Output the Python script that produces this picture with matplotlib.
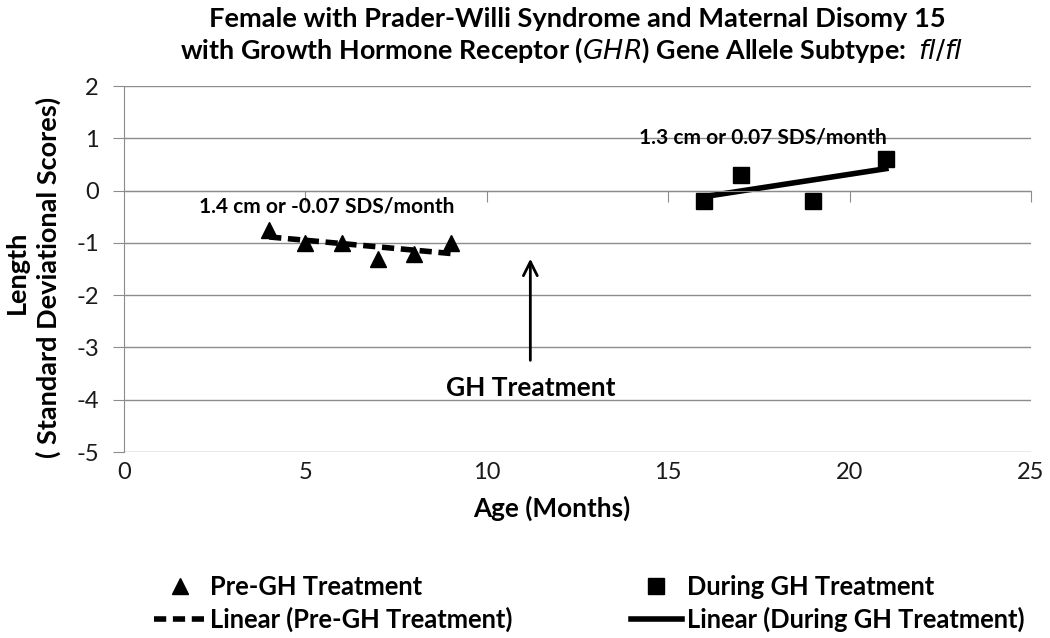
import matplotlib
matplotlib.use('Agg')
import matplotlib.pyplot as plt
import numpy as np

plt.rcParams['font.family'] = ['Lato', 'DejaVu Sans']

# data
pre_age = [4, 5, 6, 7, 8, 9]
pre_sds = [-0.75, -1.0, -1.0, -1.3, -1.22, -1.0]
gh_age = [16, 17, 19, 21]
gh_sds = [-0.2, 0.3, -0.2, 0.6]

y_ticks = [-5, -4, -3, -2, -1, 0, 1, 2]
x_ticks = [0, 5, 10, 15, 20, 25]

title1 = 'Female with Prader-Willi Syndrome and Maternal Disomy 15'
title2 = 'with Growth Hormone Receptor ($\\it{GHR}$) Gene Allele Subtype:  $\\it{fl/fl}$'

GRID = '#8c8c8c'
TXT = '#1a1a1a'
W, H = 1050, 638

fig = plt.figure(figsize=(10.5, 6.38), dpi=100)
ax = fig.add_axes([124 / W, 1 - 452 / H, (1031 - 124) / W, (452 - 86) / H])

ax.set_xlim(0, 25)
ax.set_ylim(-5, 2)
ax.set_yticks(y_ticks)
ax.set_yticklabels([str(v) for v in y_ticks], fontsize=17, color=TXT)
ax.yaxis.grid(True, color=GRID, lw=1)
ax.set_axisbelow(True)

for s in ['top', 'right']:
    ax.spines[s].set_visible(False)
ax.spines['left'].set_color(GRID)
ax.spines['bottom'].set_position(('data', 0))
ax.spines['bottom'].set_color(GRID)
ax.set_xticks(x_ticks[1:])
ax.tick_params(axis='x', direction='out', length=8, color=GRID, labelbottom=False)
ax.tick_params(axis='y', direction='out', length=8, color=GRID, pad=10)

# x tick labels sit below the plot, under the -5 line
for v in x_ticks:
    ax.text(v, -5.2, str(v), ha='center', va='top', fontsize=17, color=TXT)

# points
ax.plot(pre_age, pre_sds, ls='none', marker='^', ms=11, color='black',
        label='Pre-GH Treatment', zorder=3)
ax.plot(gh_age, gh_sds, ls='none', marker='s', ms=11, color='black',
        label='During GH Treatment', zorder=3)

# linear trend lines
p1 = np.polyfit(pre_age, pre_sds, 1)
x1 = np.array([min(pre_age), max(pre_age)])
ax.plot(x1, np.polyval(p1, x1), color='black', lw=4, ls=(0, (2.2, 1.2)),
        label='Linear (Pre-GH Treatment)', zorder=2)
p2 = np.polyfit(gh_age, gh_sds, 1)
x2 = np.array([min(gh_age), max(gh_age)])
ax.plot(x2, np.polyval(p2, x2), color='black', lw=4,
        label='Linear (During GH Treatment)', zorder=2)

ax.text(5.6, -0.31, '1.4 cm or -0.07 SDS/month', ha='center', va='center',
        fontsize=15, fontweight='bold')
ax.text(17.6, 1.01, '1.3 cm or 0.07 SDS/month', ha='center', va='center',
        fontsize=15, fontweight='bold')

ax.annotate('', xy=(11.2, -1.25), xytext=(11.2, -3.3),
            arrowprops=dict(arrowstyle='->', lw=2, color='black',
                            mutation_scale=25))
ax.text(11.2, -3.77, 'GH Treatment', ha='center', va='center',
        fontsize=19, fontweight='bold')

fig.text(552 / W, 1 - 508 / H, 'Age (Months)', ha='center', va='center',
         fontsize=18.8, fontweight='bold')

fig.text(577 / W, 1 - 19 / H, title1, ha='center', va='center',
         fontsize=19.6, fontweight='bold')
fig.text(572 / W, 1 - 50 / H, title2, ha='center', va='center',
         fontsize=19.4, fontweight='bold')
fig.text(17 / W, 1 - 272 / H, 'Length', rotation=90, ha='center',
         va='center', fontsize=19.5, fontweight='bold')
fig.text(48 / W, 1 - 277 / H, '( Standard Deviational Scores)',
         rotation=90, ha='center', va='center', fontsize=19.5,
         fontweight='bold')

h, l = ax.get_legend_handles_labels()
order = [0, 2, 1, 3]
fig.legend([h[i] for i in order], [l[i] for i in order], ncol=2,
           loc='upper left', bbox_to_anchor=(144 / W, 1 - 565 / H),
           frameon=False, handlelength=2.0, handletextpad=0.2,
           columnspacing=4.6, labelspacing=0.3, borderaxespad=0,
           prop={'weight': 'bold', 'size': 18.4})

fig.savefig('out.png', dpi=100)
